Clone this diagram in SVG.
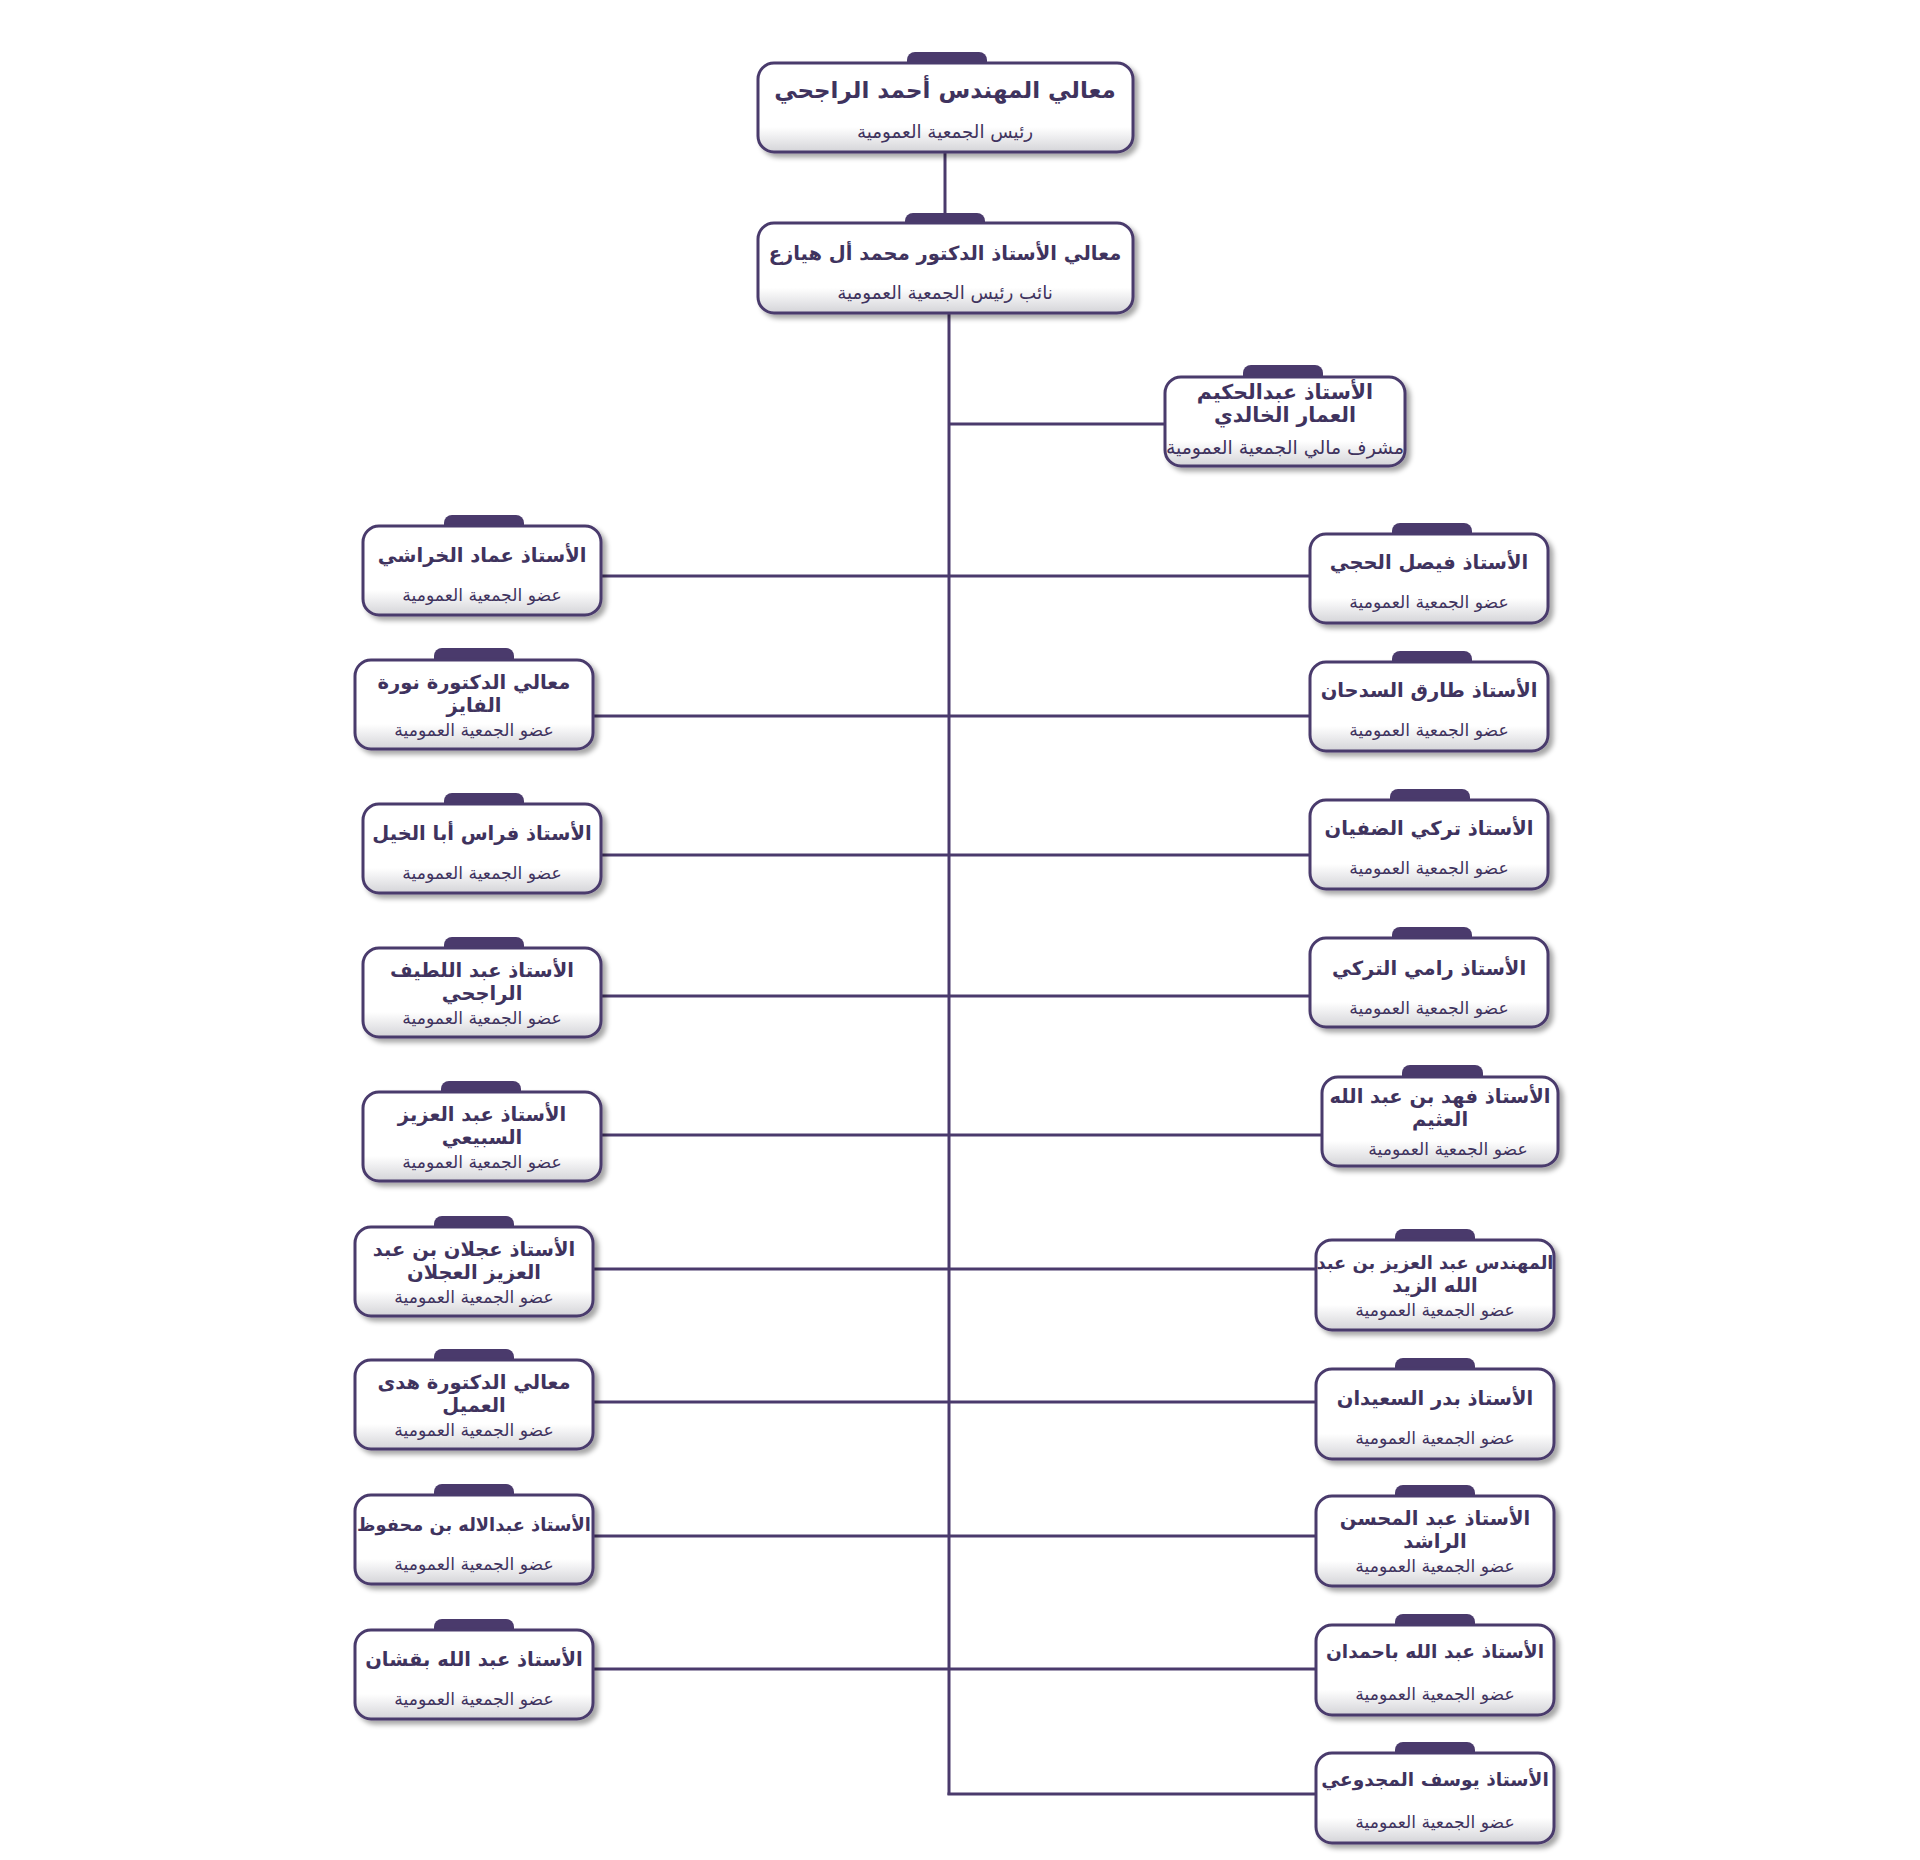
<svg xmlns="http://www.w3.org/2000/svg" width="1920" height="1860" viewBox="0 0 1920 1860">
<defs>
<linearGradient id="bg" x1="0" y1="0" x2="0" y2="1">
<stop offset="0" stop-color="#ffffff"/>
<stop offset="0.72" stop-color="#ffffff"/>
<stop offset="1" stop-color="#d4d4d8"/>
</linearGradient>
<filter id="sh" x="-10%" y="-10%" width="125%" height="130%">
<feDropShadow dx="4" dy="4" stdDeviation="2.5" flood-color="#000" flood-opacity="0.35"/>
</filter>
<style>
.box{fill:url(#bg);stroke:#4a3a6c;stroke-width:3;filter:url(#sh)}
.tab{fill:#4a3a6c}
.ln{stroke:#4a3a6c;stroke-width:3;fill:none}
text{font-family:"DejaVu Sans",sans-serif;fill:#3f335e;text-anchor:middle;dominant-baseline:central;direction:rtl}
.nm{font-weight:bold;font-size:19.5px}
.rl{font-size:17.2px}
.big{font-weight:bold;font-size:23px}
.bigr{font-size:18.3px}
</style>
</defs>
<rect width="1920" height="1860" fill="#ffffff"/>
<g id="connectors">
<line class="ln" x1="945" y1="152" x2="945" y2="223"/>
<line class="ln" x1="949" y1="313" x2="949" y2="1795"/>
<line class="ln" x1="949" y1="424" x2="1165" y2="424"/>
<line class="ln" x1="600" y1="576" x2="1310" y2="576"/>
<line class="ln" x1="593" y1="716" x2="1310" y2="716"/>
<line class="ln" x1="600" y1="855" x2="1310" y2="855"/>
<line class="ln" x1="600" y1="996" x2="1310" y2="996"/>
<line class="ln" x1="600" y1="1135" x2="1322" y2="1135"/>
<line class="ln" x1="593" y1="1269" x2="1316" y2="1269"/>
<line class="ln" x1="593" y1="1402" x2="1316" y2="1402"/>
<line class="ln" x1="593" y1="1536" x2="1316" y2="1536"/>
<line class="ln" x1="593" y1="1669" x2="1316" y2="1669"/>
<line class="ln" x1="947.5" y1="1794" x2="1316" y2="1794"/>
</g>
<g id="n-top">
<path class="tab" d="M907 66 V60 a8 8 0 0 1 8 -8 H979 a8 8 0 0 1 8 8 V66 Z"/>
<rect class="box" x="758" y="63" width="375" height="89" rx="16"/>
<text class="big" x="945" y="90">معالي المهندس أحمد الراجحي</text>
<text class="bigr" x="945" y="131">رئيس الجمعية العمومية</text>
</g>
<g id="n-vp">
<path class="tab" d="M905 226 V221 a8 8 0 0 1 8 -8 H977 a8 8 0 0 1 8 8 V226 Z"/>
<rect class="box" x="758" y="223" width="375" height="90" rx="16"/>
<text class="big" x="945" y="253" style="font-size:19.5px">معالي الأستاذ الدكتور محمد أل هيازع</text>
<text class="bigr" x="945" y="292">نائب رئيس الجمعية العمومية</text>
</g>
<g id="n-fin">
<path class="tab" d="M1243 380 V373 a8 8 0 0 1 8 -8 H1315 a8 8 0 0 1 8 8 V380 Z"/>
<rect class="box" x="1165" y="377" width="240" height="89" rx="16"/>
<text class="nm" x="1285" y="392" style="font-size:20.5px">الأستاذ عبدالحكيم</text>
<text class="nm" x="1285" y="415" style="font-size:20.5px">العمار الخالدي</text>
<text class="rl" x="1285" y="447" style="font-size:18.9px">مشرف مالي الجمعية العمومية</text>
</g>
<g id="n-l1">
<path class="tab" d="M444 529 V523 a8 8 0 0 1 8 -8 H516 a8 8 0 0 1 8 8 V529 Z"/>
<rect class="box" x="363" y="526" width="238" height="89" rx="16"/>
<text class="nm" x="482" y="555">الأستاذ عماد الخراشي</text>
<text class="rl" x="482" y="595">عضو الجمعية العمومية</text>
</g>
<g id="n-l2">
<path class="tab" d="M434 663 V656 a8 8 0 0 1 8 -8 H506 a8 8 0 0 1 8 8 V663 Z"/>
<rect class="box" x="355" y="660" width="238" height="89" rx="16"/>
<text class="nm" x="474" y="682">معالي الدكتورة نورة</text>
<text class="nm" x="474" y="705">الفايز</text>
<text class="rl" x="474" y="730">عضو الجمعية العمومية</text>
</g>
<g id="n-l3">
<path class="tab" d="M444 807 V801 a8 8 0 0 1 8 -8 H516 a8 8 0 0 1 8 8 V807 Z"/>
<rect class="box" x="363" y="804" width="238" height="89" rx="16"/>
<text class="nm" x="482" y="833">الأستاذ فراس أبا الخيل</text>
<text class="rl" x="482" y="873">عضو الجمعية العمومية</text>
</g>
<g id="n-l4">
<path class="tab" d="M444 951 V945 a8 8 0 0 1 8 -8 H516 a8 8 0 0 1 8 8 V951 Z"/>
<rect class="box" x="363" y="948" width="238" height="89" rx="16"/>
<text class="nm" x="482" y="970">الأستاذ عبد اللطيف</text>
<text class="nm" x="482" y="993">الراجحي</text>
<text class="rl" x="482" y="1018">عضو الجمعية العمومية</text>
</g>
<g id="n-l5">
<path class="tab" d="M441 1095 V1089 a8 8 0 0 1 8 -8 H513 a8 8 0 0 1 8 8 V1095 Z"/>
<rect class="box" x="363" y="1092" width="238" height="89" rx="16"/>
<text class="nm" x="482" y="1114">الأستاذ عبد العزيز</text>
<text class="nm" x="482" y="1137">السبيعي</text>
<text class="rl" x="482" y="1162">عضو الجمعية العمومية</text>
</g>
<g id="n-l6">
<path class="tab" d="M434 1230 V1224 a8 8 0 0 1 8 -8 H506 a8 8 0 0 1 8 8 V1230 Z"/>
<rect class="box" x="355" y="1227" width="238" height="89" rx="16"/>
<text class="nm" x="474" y="1249">الأستاذ عجلان بن عبد</text>
<text class="nm" x="474" y="1272">العزيز العجلان</text>
<text class="rl" x="474" y="1297">عضو الجمعية العمومية</text>
</g>
<g id="n-l7">
<path class="tab" d="M434 1363 V1357 a8 8 0 0 1 8 -8 H506 a8 8 0 0 1 8 8 V1363 Z"/>
<rect class="box" x="355" y="1360" width="238" height="89" rx="16"/>
<text class="nm" x="474" y="1382">معالي الدكتورة هدى</text>
<text class="nm" x="474" y="1405">العميل</text>
<text class="rl" x="474" y="1430">عضو الجمعية العمومية</text>
</g>
<g id="n-l8">
<path class="tab" d="M434 1498 V1492 a8 8 0 0 1 8 -8 H506 a8 8 0 0 1 8 8 V1498 Z"/>
<rect class="box" x="355" y="1495" width="238" height="89" rx="16"/>
<text class="nm" x="474" y="1524" style="font-size:17.8px">الأستاذ عبدالاله بن محفوظ</text>
<text class="rl" x="474" y="1564">عضو الجمعية العمومية</text>
</g>
<g id="n-l9">
<path class="tab" d="M434 1633 V1627 a8 8 0 0 1 8 -8 H506 a8 8 0 0 1 8 8 V1633 Z"/>
<rect class="box" x="355" y="1630" width="238" height="89" rx="16"/>
<text class="nm" x="474" y="1659">الأستاذ عبد الله بقشان</text>
<text class="rl" x="474" y="1699">عضو الجمعية العمومية</text>
</g>
<g id="n-r1">
<path class="tab" d="M1392 537 V531 a8 8 0 0 1 8 -8 H1464 a8 8 0 0 1 8 8 V537 Z"/>
<rect class="box" x="1310" y="534" width="238" height="89" rx="16"/>
<text class="nm" x="1429" y="562">الأستاذ فيصل الحجي</text>
<text class="rl" x="1429" y="602">عضو الجمعية العمومية</text>
</g>
<g id="n-r2">
<path class="tab" d="M1392 665 V659 a8 8 0 0 1 8 -8 H1464 a8 8 0 0 1 8 8 V665 Z"/>
<rect class="box" x="1310" y="662" width="238" height="89" rx="16"/>
<text class="nm" x="1429" y="690">الأستاذ طارق السدحان</text>
<text class="rl" x="1429" y="730">عضو الجمعية العمومية</text>
</g>
<g id="n-r3">
<path class="tab" d="M1390 803 V797 a8 8 0 0 1 8 -8 H1462 a8 8 0 0 1 8 8 V803 Z"/>
<rect class="box" x="1310" y="800" width="238" height="89" rx="16"/>
<text class="nm" x="1429" y="828">الأستاذ تركي الضفيان</text>
<text class="rl" x="1429" y="868">عضو الجمعية العمومية</text>
</g>
<g id="n-r4">
<path class="tab" d="M1392 941 V935 a8 8 0 0 1 8 -8 H1464 a8 8 0 0 1 8 8 V941 Z"/>
<rect class="box" x="1310" y="938" width="238" height="89" rx="16"/>
<text class="nm" x="1429" y="968">الأستاذ رامي التركي</text>
<text class="rl" x="1429" y="1008">عضو الجمعية العمومية</text>
</g>
<g id="n-r5">
<path class="tab" d="M1402 1080 V1073 a8 8 0 0 1 8 -8 H1475 a8 8 0 0 1 8 8 V1080 Z"/>
<rect class="box" x="1322" y="1077" width="236" height="89" rx="16"/>
<text class="nm" x="1440" y="1096">الأستاذ فهد بن عبد الله</text>
<text class="nm" x="1440" y="1119">العثيم</text>
<text class="rl" x="1448" y="1149">عضو الجمعية العمومية</text>
</g>
<g id="n-r6">
<path class="tab" d="M1395 1243 V1237 a8 8 0 0 1 8 -8 H1467 a8 8 0 0 1 8 8 V1243 Z"/>
<rect class="box" x="1316" y="1240" width="238" height="90" rx="16"/>
<text class="nm" x="1435" y="1262" style="font-size:17.8px">المهندس عبد العزيز بن عبد</text>
<text class="nm" x="1435" y="1285">الله الزيد</text>
<text class="rl" x="1435" y="1310">عضو الجمعية العمومية</text>
</g>
<g id="n-r7">
<path class="tab" d="M1395 1372 V1366 a8 8 0 0 1 8 -8 H1467 a8 8 0 0 1 8 8 V1372 Z"/>
<rect class="box" x="1316" y="1369" width="238" height="90" rx="16"/>
<text class="nm" x="1435" y="1398">الأستاذ بدر السعيدان</text>
<text class="rl" x="1435" y="1438">عضو الجمعية العمومية</text>
</g>
<g id="n-r8">
<path class="tab" d="M1395 1499 V1493 a8 8 0 0 1 8 -8 H1467 a8 8 0 0 1 8 8 V1499 Z"/>
<rect class="box" x="1316" y="1496" width="238" height="90" rx="16"/>
<text class="nm" x="1435" y="1518">الأستاذ عبد المحسن</text>
<text class="nm" x="1435" y="1541">الراشد</text>
<text class="rl" x="1435" y="1566">عضو الجمعية العمومية</text>
</g>
<g id="n-r9">
<path class="tab" d="M1395 1628 V1622 a8 8 0 0 1 8 -8 H1467 a8 8 0 0 1 8 8 V1628 Z"/>
<rect class="box" x="1316" y="1625" width="238" height="90" rx="16"/>
<text class="nm" x="1435" y="1651" style="font-size:18.6px">الأستاذ عبد الله باحمدان</text>
<text class="rl" x="1435" y="1694">عضو الجمعية العمومية</text>
</g>
<g id="n-r10">
<path class="tab" d="M1395 1756 V1750 a8 8 0 0 1 8 -8 H1467 a8 8 0 0 1 8 8 V1756 Z"/>
<rect class="box" x="1316" y="1753" width="238" height="90" rx="16"/>
<text class="nm" x="1435" y="1779" style="font-size:18.6px">الأستاذ يوسف المجدوعي</text>
<text class="rl" x="1435" y="1822">عضو الجمعية العمومية</text>
</g>
</svg>
